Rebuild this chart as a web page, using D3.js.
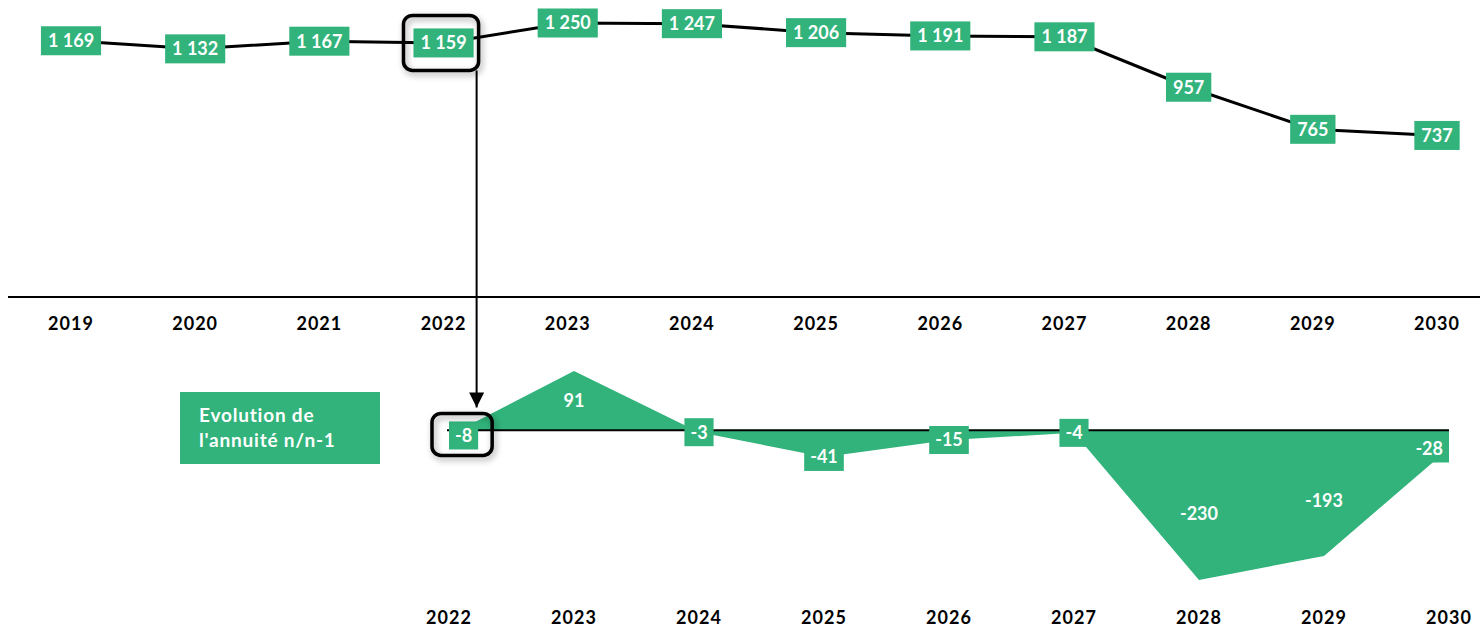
<!DOCTYPE html>
<html lang="fr">
<head>
<meta charset="utf-8">
<style>
  body { margin: 0; background: #fff; }
  svg text { font-family: Lato, "Open Sans", sans-serif; font-weight: 700; }
</style>
</head>
<body>
<svg width="1483" height="627"></svg>
<script src="https://d3js.org/d3.v7.min.js"></script>
<script>
// data
var years = [2019, 2020, 2021, 2022, 2023, 2024, 2025, 2026, 2027, 2028, 2029, 2030];
var annuity = [1169, 1132, 1167, 1159, 1250, 1247, 1206, 1191, 1187, 957, 765, 737];
var evoYears = [2022, 2023, 2024, 2025, 2026, 2027, 2028, 2029, 2030];
var evolution = [-8, 91, -3, -41, -15, -4, -230, -193, -28];
var legendLines = ["Evolution de", "l'annuité n/n-1"];

var green = "#31b37b";
var svg = d3.select("svg");

// number format with space as thousands separator
var fmt = d3.formatLocale({ decimal: ",", thousands: " ", grouping: [3], currency: ["", " €"] }).format(",d");

var defs = svg.append("defs");
var shadow = defs.append("filter").attr("id", "shadow")
    .attr("x", "-30%").attr("y", "-30%").attr("width", "160%").attr("height", "160%");
shadow.append("feDropShadow")
    .attr("dx", 2).attr("dy", 3).attr("stdDeviation", 3)
    .attr("flood-color", "#000").attr("flood-opacity", 0.35);
defs.append("marker")
    .attr("id", "arrowhead")
    .attr("viewBox", "0 -5 10 10")
    .attr("refX", 10).attr("refY", 0)
    .attr("orient", "auto")
    .attr("markerUnits", "userSpaceOnUse")
    .attr("markerWidth", 15).attr("markerHeight", 15)
    .append("path")
    .attr("d", "M0,-5 L10,0 L0,5 Z")
    .attr("fill", "#000");

// ---- top chart : annuity ----
var xTop = d3.scalePoint().domain(years).range([71, 1437]);
var yTop = d3.scaleLinear().domain([0, 1250]).range([297, 23]);

svg.append("line")
    .attr("x1", 8).attr("x2", 1480)
    .attr("y1", yTop(0)).attr("y2", yTop(0))
    .attr("stroke", "#000").attr("stroke-width", 2);

svg.append("g").selectAll("text")
    .data(years).enter().append("text")
    .attr("x", function (d) { return xTop(d); })
    .attr("y", 330)
    .attr("text-anchor", "middle")
    .attr("font-size", 18)
    .attr("letter-spacing", 1)
    .attr("fill", "#000")
    .text(function (d) { return d; });

var topLine = d3.line()
    .x(function (d, i) { return xTop(years[i]); })
    .y(function (d) { return yTop(d); });

svg.append("path")
    .datum(annuity)
    .attr("d", topLine)
    .attr("fill", "none")
    .attr("stroke", "#000")
    .attr("stroke-width", 3);

var topBoxes = [];
var topLabels = svg.append("g").selectAll("g")
    .data(annuity).enter().append("g")
    .attr("transform", function (d, i) { return "translate(" + xTop(years[i]) + "," + yTop(d) + ")"; });

topLabels.each(function (d, i) {
    var g = d3.select(this);
    var rect = g.append("rect").attr("fill", green);
    var t = g.append("text")
        .attr("text-anchor", "middle")
        .attr("dy", "0.35em")
        .attr("font-size", 18)
        .attr("fill", "#fff")
        .text(fmt(d));
    var w = t.node().getComputedTextLength() + 14;
    var h = 29;
    rect.attr("x", -w / 2).attr("y", -h / 2).attr("width", w).attr("height", h);
    topBoxes.push({ x: xTop(years[i]) - w / 2, y: yTop(d) - h / 2, w: w, h: h });
});

// ---- bottom chart : evolution n/n-1 ----
var xBot = d3.scalePoint().domain(evoYears).range([449, 1449]);
var yBot = d3.scaleLinear().domain([-230, 91]).range([580, 371]);

var area = d3.area()
    .x(function (d, i) { return xBot(evoYears[i]); })
    .y0(yBot(0))
    .y1(function (d) { return yBot(d); });

svg.append("path")
    .datum(evolution)
    .attr("d", area)
    .attr("fill", green);

svg.append("line")
    .attr("x1", xBot(evoYears[0]) - 2).attr("x2", xBot(evoYears[evoYears.length - 1]))
    .attr("y1", yBot(0)).attr("y2", yBot(0))
    .attr("stroke", "#000").attr("stroke-width", 2);

svg.append("g").selectAll("text")
    .data(evoYears).enter().append("text")
    .attr("x", function (d) { return xBot(d); })
    .attr("y", 624)
    .attr("text-anchor", "middle")
    .attr("font-size", 18)
    .attr("letter-spacing", 1)
    .attr("fill", "#000")
    .text(function (d) { return d; });

var xMin = xBot(evoYears[0]), xMax = xBot(evoYears[evoYears.length - 1]);
var botBoxes = [];
svg.append("g").selectAll("g")
    .data(evolution).enter().append("g")
    .each(function (d, i) {
        var g = d3.select(this);
        var px = xBot(evoYears[i]);
        // big values: label inside the area, small ones: on the point
        var py = Math.abs(d) > 50 ? yBot(0) + (yBot(d) - yBot(0)) * (d < 0 ? 0.56 : 0.5) : yBot(d);
        var rect = g.append("rect").attr("fill", green);
        var t = g.append("text")
            .attr("text-anchor", "middle")
            .attr("dy", "0.35em")
            .attr("font-size", 18)
            .attr("fill", "#fff")
            .text(d);
        var w = t.node().getComputedTextLength() + 12;
        var h = 28;
        var left = Math.max(xMin, Math.min(xMax - w, px - w / 2));
        rect.attr("x", left).attr("y", py - h / 2).attr("width", w).attr("height", h);
        t.attr("x", left + w / 2).attr("y", py);
        botBoxes.push({ x: left, y: py - h / 2, w: w, h: h });
    });

// ---- highlight of 2022 ----
var b1 = topBoxes[years.indexOf(2022)];
var hl1 = { x: b1.x - 10, y: b1.y - 13, w: b1.w + 15, h: b1.h + 26 };
var b2 = botBoxes[0];
var hl2 = { x: b2.x - 17, y: b2.y - 8, w: b2.w + 31, h: b2.h + 14 };

[hl1, hl2].forEach(function (r) {
    svg.append("rect")
        .attr("x", r.x).attr("y", r.y)
        .attr("width", r.w).attr("height", r.h)
        .attr("rx", 9).attr("ry", 9)
        .attr("fill", "none")
        .attr("stroke", "#000")
        .attr("stroke-width", 3.5)
        .attr("filter", "url(#shadow)");
});

var ax = hl1.x + hl1.w - 2;
svg.append("line")
    .attr("x1", ax).attr("x2", ax)
    .attr("y1", hl1.y + hl1.h).attr("y2", hl2.y - 6)
    .attr("stroke", "#000").attr("stroke-width", 2)
    .attr("marker-end", "url(#arrowhead)");

// ---- legend box ----
var legend = svg.append("g").attr("transform", "translate(180,392)");
legend.append("rect")
    .attr("width", 200).attr("height", 72)
    .attr("fill", green);
legend.selectAll("text")
    .data(legendLines).enter().append("text")
    .attr("x", 19)
    .attr("y", function (d, i) { return 30 + i * 25; })
    .attr("font-size", 19)
    .attr("letter-spacing", 0.8)
    .attr("fill", "#fff")
    .text(function (d) { return d; });
</script>
</body>
</html>
